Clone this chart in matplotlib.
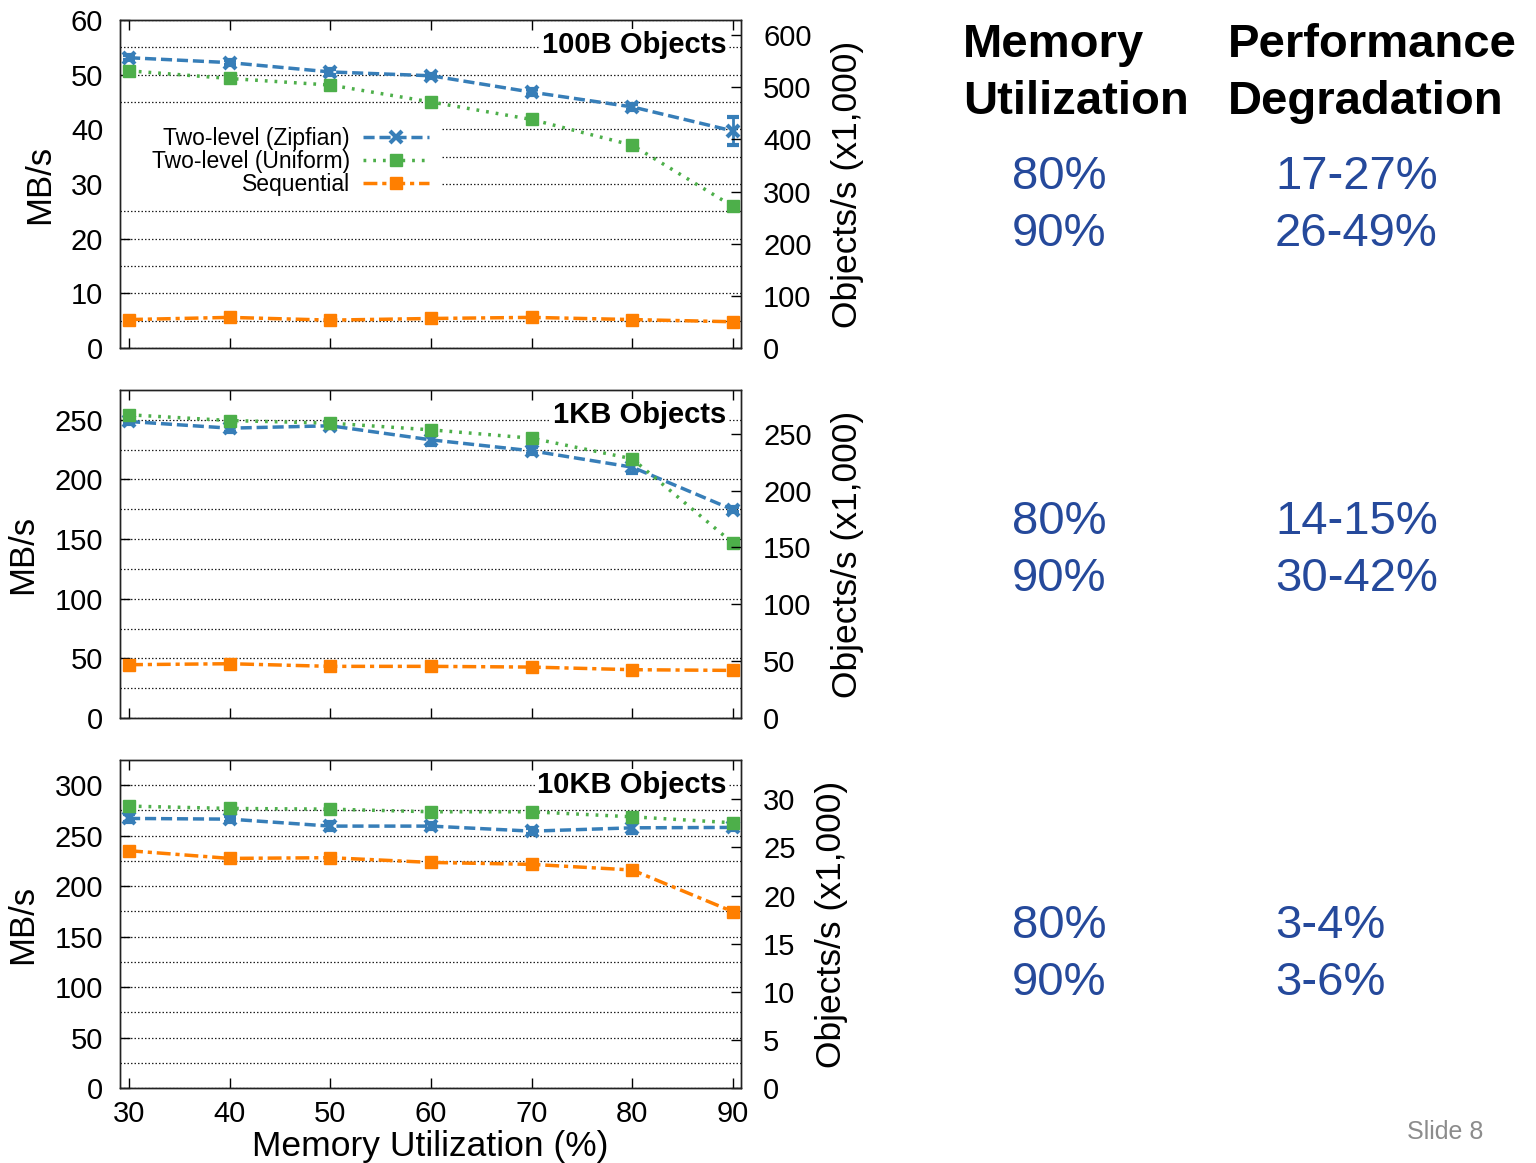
import matplotlib
matplotlib.use("Agg")
import matplotlib.pyplot as plt
from matplotlib.lines import Line2D
from matplotlib.patches import Rectangle

plt.rcParams['font.family'] = ['Liberation Sans', 'DejaVu Sans']

# ---------------- data ----------------
mem_util = [30, 40, 50, 60, 70, 80, 90]
series_names = ["Two-level (Zipfian)", "Two-level (Uniform)", "Sequential"]
panel_titles = ["100B Objects", "1KB Objects", "10KB Objects"]

zipf_100b = [53.1, 52.2, 50.5, 49.8, 46.8, 44.1, 39.7]
unif_100b = [50.7, 49.3, 48.1, 45.0, 41.8, 37.1, 25.9]
seq_100b = [5.2, 5.6, 5.1, 5.4, 5.6, 5.2, 4.8]
zipf_100b_err = [0.5, 0.5, 0.5, 0.4, 0.5, 0.5, 2.6]
unif_100b_err = [0.4, 0.4, 0.4, 0.3, 0.4, 0.4, 0.4]
seq_100b_err = [0.3, 0.3, 0.3, 0.3, 0.3, 0.3, 0.3]

zipf_1kb = [248.6, 243.0, 245.0, 233.2, 224.0, 210.3, 174.6]
unif_1kb = [254.2, 249.4, 247.2, 241.6, 234.6, 217.3, 146.6]
seq_1kb = [44.7, 45.5, 43.3, 43.3, 42.7, 40.5, 39.9]
zipf_1kb_err = [2.0, 3.0, 2.0, 4.0, 3.0, 5.0, 2.0]
unif_1kb_err = [3.0, 2.0, 2.0, 3.0, 3.0, 3.0, 4.0]
seq_1kb_err = [1.0, 1.0, 1.0, 1.0, 1.0, 1.0, 1.0]

zipf_10kb = [267.1, 266.4, 259.5, 259.5, 254.5, 257.8, 258.2]
unif_10kb = [279.3, 277.0, 276.3, 273.7, 273.7, 268.7, 262.8]
seq_10kb = [235.1, 227.5, 228.2, 223.5, 221.6, 216.0, 174.7]
zipf_10kb_err = [4.0, 3.0, 4.0, 3.0, 3.0, 5.0, 3.0]
unif_10kb_err = [3.0, 3.0, 3.0, 4.0, 3.0, 3.0, 2.0]
seq_10kb_err = [2.0, 2.0, 2.0, 2.0, 2.0, 2.0, 2.0]

# axis limits / ticks per panel
left_max = [60, 275, 325]
left_major = [10, 50, 50]
obj_factor = [10.48576, 1.048576, 0.1048576]   # Objects/s(x1000) per MB/s
right_major = [100, 50, 5]
right_top_tick = [600, 250, 30]

util_col = ["80%", "90%"]
degr_100b = ["17-27%", "26-49%"]
degr_1kb = ["14-15%", "30-42%"]
degr_10kb = ["3-4%", "3-6%"]

# ---------------- style ----------------
colors = ["#377eb8", "#4daf4a", "#ff7f00"]
lstyles = [(0, (3.2, 1.4)), (0, (0.8, 2.0)), (0, (4.0, 1.4, 1.2, 1.4))]
markers = ["x", "s", "s"]
msizes = [9, 8.5, 8.5]

W, H = 1536, 1163
fig = plt.figure(figsize=(W / 100, H / 100), dpi=100)

def fx(px):
    return px / W

def fy(py):
    return 1 - py / H

panels = [
    (zipf_100b, unif_100b, seq_100b, zipf_100b_err, unif_100b_err, seq_100b_err),
    (zipf_1kb, unif_1kb, seq_1kb, zipf_1kb_err, unif_1kb_err, seq_1kb_err),
    (zipf_10kb, unif_10kb, seq_10kb, zipf_10kb_err, unif_10kb_err, seq_10kb_err),
]
tops = [20, 390, 760]
ax_h = 328
ax_left, ax_right = 120, 741

for i, (vals, top) in enumerate(zip(panels, tops)):
    ax = fig.add_axes([fx(ax_left), fy(top + ax_h), fx(ax_right - ax_left), ax_h / H])
    ax.set_xlim(29.1, 90.8)
    ax.set_ylim(0, left_max[i])
    ys = list(range(0, left_max[i] + 1, left_major[i]))
    ax.set_yticks(ys)
    ax.set_yticks([y + left_major[i] / 2 for y in ys if y + left_major[i] / 2 < left_max[i]], minor=True)
    ax.set_xticks(mem_util)
    ax.yaxis.grid(True, which='both', linestyle=(0, (1.2, 1.6)), color='#202020', linewidth=0.9, zorder=0)
    ax.set_axisbelow(True)
    ax.tick_params(axis='both', which='major', direction='in', length=7, width=1,
                   labelsize=21, top=True, right=False, pad=9)
    ax.tick_params(axis='y', which='minor', length=0)
    ax.tick_params(axis='y', which='major', pad=12)
    for sp in ax.spines.values():
        sp.set_linewidth(1.0)
        sp.set_color('#222222')
    if i < 2:
        ax.set_xticklabels([])
    else:
        ax.set_xlabel("Memory Utilization (%)", fontsize=25.5, labelpad=1)
    ax.set_ylabel("MB/s", fontsize=25, labelpad=11)

    series = vals[:3]
    errs = vals[3:]
    for k in range(3):
        ax.errorbar(mem_util, series[k], yerr=errs[k], color=colors[k],
                    linestyle=lstyles[k], linewidth=2.5, marker=markers[k],
                    markersize=msizes[k], markeredgewidth=3 if k == 0 else 1,
                    capsize=4, elinewidth=2, capthick=2, zorder=3)

    ax.text(0.977, 0.924, panel_titles[i], transform=ax.transAxes, ha='right', va='center',
            fontsize=21, fontweight='bold', zorder=4,
            bbox=dict(facecolor='white', edgecolor='none', pad=1.5))

    if i == 0:
        # white area behind the legend (hides the grid lines, as in the reference)
        ax.add_patch(Rectangle((0.0, (348 - 197) / ax_h), (442 - ax_left) / (ax_right - ax_left),
                               (197 - 122) / ax_h, transform=ax.transAxes,
                               facecolor='white', edgecolor='none', zorder=1))
        handles = [Line2D([], [], color=colors[k], linestyle=lstyles[k], linewidth=2.5,
                          marker=markers[k], markersize=msizes[k],
                          markeredgewidth=3 if k == 0 else 1) for k in range(3)]
        leg = ax.legend(handles, series_names, loc='upper right',
                        bbox_to_anchor=(0.505, 0.688), markerfirst=False, frameon=False,
                        fontsize=16.5, handlelength=2.9, handletextpad=0.55,
                        labelspacing=0.0, borderpad=0.2, borderaxespad=0)
        leg.set_zorder(5)

    ax2 = ax.twinx()
    ax2.set_ylim(0, left_max[i] * obj_factor[i])
    ax2.set_yticks(list(range(0, right_top_tick[i] + 1, right_major[i])))
    ax2.tick_params(axis='y', direction='in', length=7, width=1, labelsize=21, pad=16)
    for sp in ax2.spines.values():
        sp.set_linewidth(1.0)
        sp.set_color('#222222')
    ax2.set_ylabel("Objects/s (x1,000)", fontsize=25.5, labelpad=14)

# ---------------- right-hand table ----------------
blue = "#25499b"
fig.text(fx(963), fy(57), "Memory", fontsize=34, fontweight='bold', ha='left', va='baseline')
fig.text(fx(963), fy(114), "Utilization", fontsize=34, fontweight='bold', ha='left', va='baseline')
fig.text(fx(1228), fy(57), "Performance", fontsize=34, fontweight='bold', ha='left', va='baseline')
fig.text(fx(1228), fy(114), "Degradation", fontsize=34, fontweight='bold', ha='left', va='baseline')

groups = [(189, degr_100b), (534, degr_1kb), (938, degr_10kb)]
for base, degr in groups:
    for j in range(2):
        yb = base + j * 57
        fig.text(fx(1012), fy(yb), util_col[j], fontsize=34, color=blue, ha='left', va='baseline')
        fig.text(fx(1275), fy(yb), degr[j], fontsize=34, color=blue, ha='left', va='baseline')

fig.text(fx(1483), fy(1139), "Slide 8", fontsize=18, color='#8c8c8c', ha='right', va='baseline')

fig.savefig("out.png", dpi=100)
